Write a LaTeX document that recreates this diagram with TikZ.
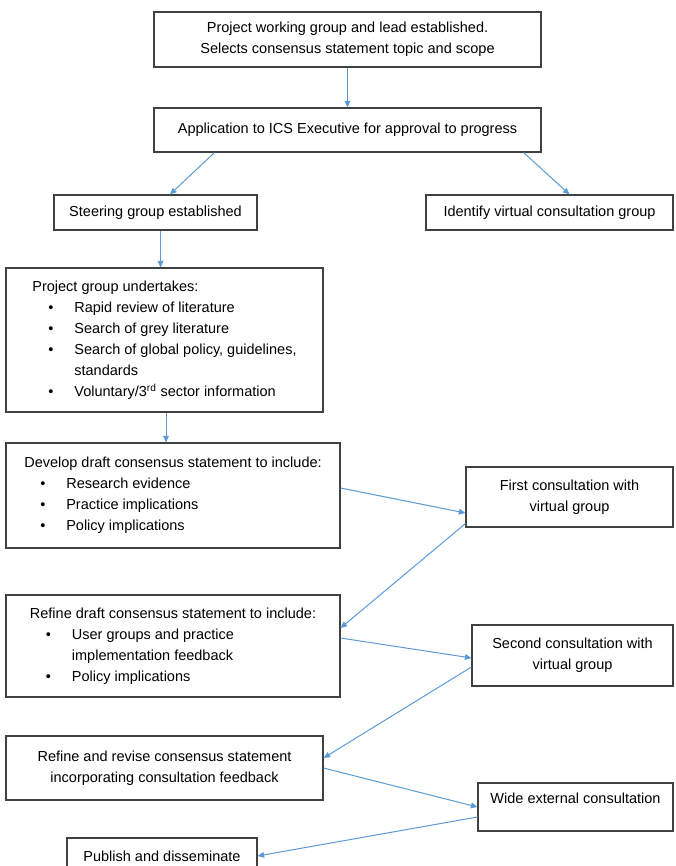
\documentclass[tikz,border=0pt]{standalone}
\usepackage{fontspec}
\setmainfont{Liberation Sans}
\usetikzlibrary{arrows.meta}
\definecolor{arrowc}{RGB}{91,155,213}
\newcommand{\fs}{\fontsize{14.5}{21}\selectfont}
\newcommand{\bl}{\hspace*{16pt}\makebox[26pt][l]{\textbullet}}
\newcommand{\cont}{\hspace*{42pt}}
\tikzset{
  stage/.style={rectangle,draw=black!75,line width=1.1pt,inner sep=2pt,align=center,font=\fs},
  lstage/.style={stage,align=left},
  flow/.style={-{Triangle[length=2.3mm,width=2mm]},line width=1pt,arrowc},
}

\begin{document}
\begin{tikzpicture}[x=1pt,y=-1pt]
  \clip (0,0) rectangle (675,866);
  \node[stage,minimum width=387pt,minimum height=55pt](top) at (347.5,39.5){Project working group and lead established.\\Selects consensus statement topic and scope};
  \node[stage,minimum width=387pt,minimum height=44pt](app) at (347.5,130){Application to ICS Executive for approval to progress};
  \node[stage,minimum width=203pt,minimum height=35pt](steer) at (155.5,212.5){Steering group established};
  \node[stage,minimum width=247pt,minimum height=35pt](ident) at (549.5,212.5){Identify virtual consultation group};
  \node[lstage,minimum width=317pt,minimum height=144pt](proj) at (164.5,340){Project group undertakes:\\
    \bl Rapid review of literature\\
    \bl Search of grey literature\\
    \bl Search of global policy, guidelines,\\
    \cont standards\\
    \bl Voluntary/3\textsuperscript{rd} sector information};
  \node[lstage,minimum width=334pt,minimum height=105pt](dev) at (173,495.5){Develop draft consensus statement to include:\\
    \bl Research evidence\\
    \bl Practice implications\\
    \bl Policy implications};
  \node[stage,minimum width=207pt,minimum height=60pt](first) at (569.5,497){First consultation with\\virtual group};
  \node[lstage,minimum width=334pt,minimum height=102pt](ref1) at (173,646){Refine draft consensus statement to include:\\
    \bl User groups and practice\\
    \cont implementation feedback\\
    \bl Policy implications};
  \node[stage,minimum width=201pt,minimum height=61pt](second) at (572.5,655.5){Second consultation with\\virtual group};
  \node[stage,minimum width=317pt,minimum height=64pt](ref2) at (164.5,768){Refine and revise consensus statement\\incorporating consultation feedback};
  \node[stage,minimum width=195pt,minimum height=48pt,text depth=17pt](wide) at (575.5,807){Wide external consultation};
  \node[stage,minimum width=190pt,minimum height=36pt](pub) at (162,856){Publish and disseminate};
  % arrows
  \draw[flow] (top) -- (app);
  \draw[flow] ([xshift=61pt]app.south west) -- ([xshift=14.5pt]steer.north);
  \draw[flow] ([xshift=-18pt]app.south east) -- ([xshift=20pt]ident.north);
  \draw[flow] ([xshift=5pt]steer.south) -- ([xshift=5pt]steer.south |- proj.north);
  \draw[flow] ([xshift=1.5pt]proj.south) -- ([xshift=1.5pt]proj.south |- dev.north);
  \draw[flow] ([yshift=7.5pt]dev.east) -- ([yshift=-16pt]first.west);
  \draw[flow] ([yshift=4pt]first.south west) -- ([yshift=18pt]ref1.east);
  \draw[flow] ([yshift=8pt]ref1.east) -- ([yshift=-2.5pt]second.west);
  \draw[flow] ([yshift=-11.5pt]second.west) -- ([yshift=10pt]ref2.east);
  \draw[flow] (ref2.east) -- (wide.west);
  \draw[flow] ([yshift=-10pt]wide.west) -- (pub.east);
\end{tikzpicture}
\end{document}
